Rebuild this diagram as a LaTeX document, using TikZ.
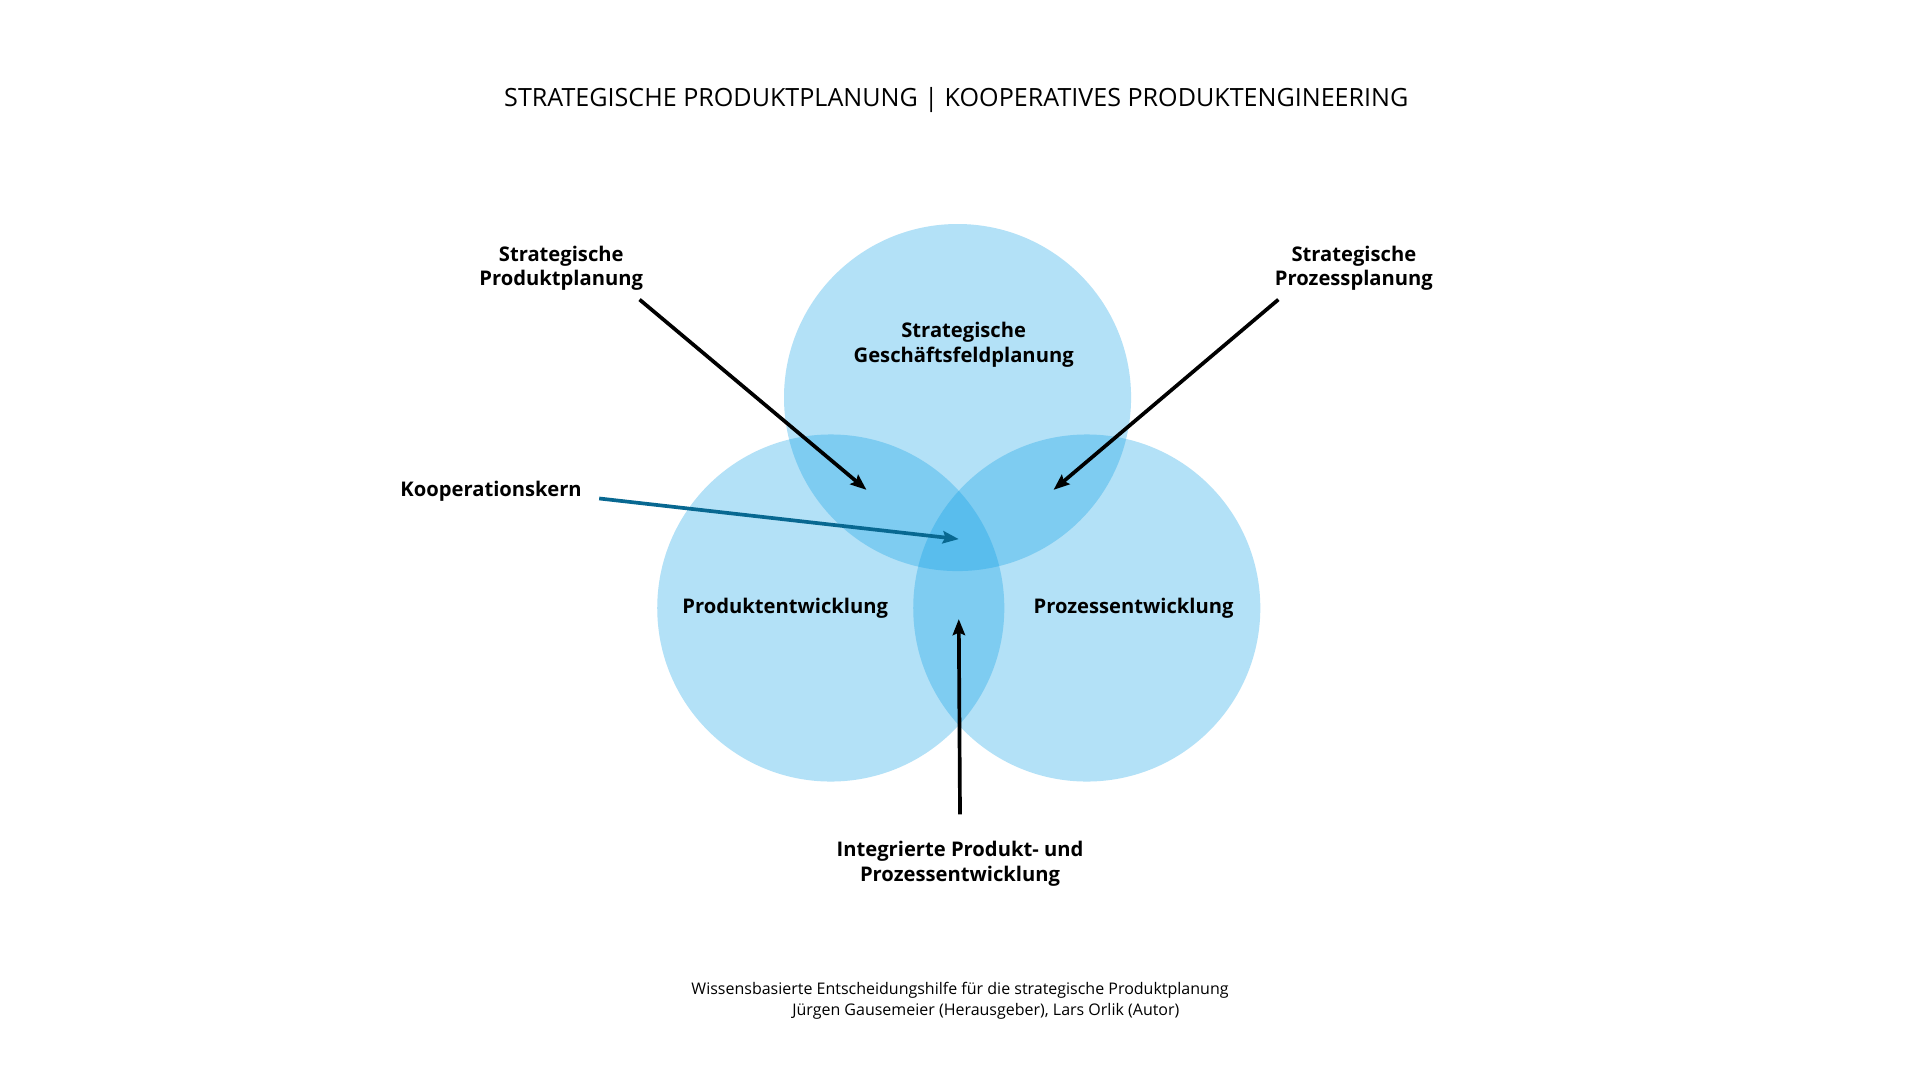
\documentclass[tikz,border=0pt]{standalone}
\usepackage{fontspec}
\setmainfont{Open Sans}
\usetikzlibrary{arrows.meta}
\definecolor{circblue}{RGB}{4,156,229}
\definecolor{kernblue}{RGB}{8,104,145}

\begin{document}
\begin{tikzpicture}[x=1pt,y=-1pt,
    circ/.style={circle,fill=circblue,fill opacity=0.3,minimum size=282pt,inner sep=0pt},
    lbl/.style={font=\bfseries\fontsize{16.4}{20}\selectfont,align=center,inner sep=0pt},
    arr/.style={line width=3pt,-{Stealth[length=13pt,width=10pt,inset=2pt]}},
    foot/.style={font=\fontsize{13}{17}\selectfont,inner sep=0pt}]
    % Background
    \fill[white] (3,0) rectangle (1563,877.5);
    \useasboundingbox (3,0) rectangle (1563,877.5);
    % Title
    \node[font=\fontsize{20.4}{24}\selectfont,inner sep=0pt] (title) at (780,81)
      {STRATEGISCHE PRODUKTPLANUNG | KOOPERATIVES PRODUKTENGINEERING};
    % Circles
    \node[circ] (sgf) at (781,323) {};
    \node[circ] (pe) at (678,494) {};
    \node[circ] (pze) at (886,494) {};
    % Texts in the circles
    \node[lbl] (sgfl) at (786,280) {Strategische\\Geschäftsfeldplanung};
    \node[lbl] (pel) at (641,494) {Produktentwicklung};
    \node[lbl] (pzel) at (924,494) {Prozessentwicklung};
    % Outer labels
    \node[lbl] (sppl) at (459,218) {Strategische\\Produktplanung};
    \node[lbl] (spzl) at (1103,218) {Strategische\\Prozessplanung};
    \node[lbl] (koop) at (402,399) {Kooperationskern};
    \node[lbl] (ipp) at (783,702) {Integrierte Produkt- und\\Prozessentwicklung};
    % Targets
    \coordinate (sppt) at (707,398);
    \coordinate (spzt) at (859,398);
    \coordinate (koopt) at (782,438);
    \coordinate (ippt) at (782,503);
    % Arrows
    \draw[arr] ([shift={(-3,7)}]sppl.south east) -- (sppt);
    \draw[arr] ([shift={(3,7)}]spzl.south west) -- (spzt);
    \draw[arr,kernblue] ([shift={(14,6)}]koop.east) -- (koopt);
    \draw[arr] ([yshift=22pt]ipp.north) -- (ippt);
    % Source
    \node[foot] (src1) at (783,805) {Wissensbasierte Entscheidungshilfe für die strategische Produktplanung};
    \node[foot] (src2) at (804,822) {Jürgen Gausemeier (Herausgeber), Lars Orlik (Autor)};
\end{tikzpicture}
\end{document}
